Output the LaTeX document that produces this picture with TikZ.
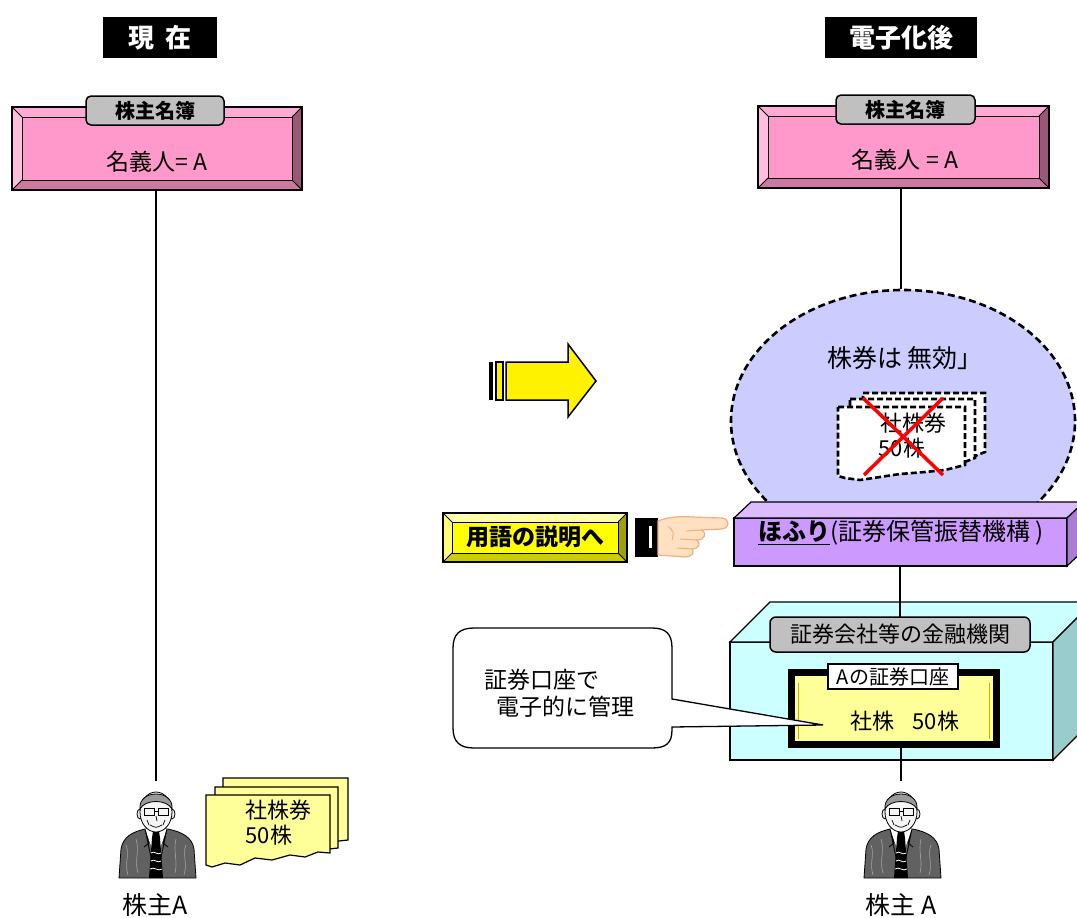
\documentclass[tikz,border=0pt]{standalone}
\usepackage{fontspec}
\setmainfont{Noto Sans CJK JP}
\usetikzlibrary{shapes.geometric,calc,positioning}

\newcommand{\jfs}[1]{\fontsize{#1}{#1}\selectfont}

\definecolor{pinkF}{RGB}{255,153,204}
\definecolor{pinkT}{RGB}{255,170,212}
\definecolor{pinkL}{RGB}{255,190,222}
\definecolor{pinkB}{RGB}{204,120,160}
\definecolor{pinkR}{RGB}{153,88,120}
\definecolor{tabgray}{RGB}{192,192,192}
\definecolor{fuusen}{RGB}{204,204,255}
\definecolor{hofuriF}{RGB}{204,153,255}
\definecolor{hofuriT}{RGB}{221,187,255}
\definecolor{hofuriS}{RGB}{170,125,210}
\definecolor{kinyuF}{RGB}{204,255,255}
\definecolor{kinyuS}{RGB}{153,204,204}
\definecolor{kouzaF}{RGB}{255,255,153}
\definecolor{kouzaG}{RGB}{200,175,0}
\definecolor{kabuken}{RGB}{255,255,153}
\definecolor{btnF}{RGB}{255,255,0}
\definecolor{btnT}{RGB}{255,255,170}
\definecolor{btnL}{RGB}{255,255,120}
\definecolor{btnB}{RGB}{204,204,0}
\definecolor{btnR}{RGB}{160,160,0}
\definecolor{handskin}{RGB}{255,224,192}
\definecolor{handline}{RGB}{240,175,130}

% 額縁（面取り）の枠
\newcommand{\bevel}[6]{%
  \fill[#3] (#1.north west) -- (#1.north east) -- ([shift={(-#2,#2)}]#1.north east) -- ([shift={(#2,#2)}]#1.north west) -- cycle;
  \fill[#4] (#1.north west) -- ([shift={(#2,#2)}]#1.north west) -- ([shift={(#2,-#2)}]#1.south west) -- (#1.south west) -- cycle;
  \fill[#5] (#1.south west) -- ([shift={(#2,-#2)}]#1.south west) -- ([shift={(-#2,-#2)}]#1.south east) -- (#1.south east) -- cycle;
  \fill[#6] (#1.south east) -- ([shift={(-#2,-#2)}]#1.south east) -- ([shift={(-#2,#2)}]#1.north east) -- (#1.north east) -- cycle;
  \draw[line width=1pt] (#1.north west) -- ([shift={(#2,#2)}]#1.north west)
    (#1.north east) -- ([shift={(-#2,#2)}]#1.north east)
    (#1.south west) -- ([shift={(#2,-#2)}]#1.south west)
    (#1.south east) -- ([shift={(-#2,-#2)}]#1.south east);
  \draw[line width=1pt] ([shift={(#2,#2)}]#1.north west) rectangle ([shift={(-#2,-#2)}]#1.south east);
  \draw[line width=1.5pt] (#1.north west) rectangle (#1.south east);
}

\tikzset{
  every picture/.style={line width=1.2pt},
  midashi/.style={fill=black, text=white, font=\jfs{26}\bfseries, inner sep=0pt, outer sep=0pt, minimum height=41},
  meibo/.style={fill=pinkF, inner sep=0pt, outer sep=0pt, minimum width=290, minimum height=83},
  tab/.style={draw=black, fill=tabgray, rounded corners=5pt, line width=1.5pt, inner sep=0pt, outer sep=0pt, minimum height=29},
  moji/.style={font=\jfs{23}, inner sep=0pt},
  kabuken/.style={fill=kabuken, draw=black, line width=1.2pt},
  mukouken/.style={fill=white, draw=black, dashed, dash pattern=on 6pt off 3pt, line width=2.6pt},
  batsu/.style={draw=red, line width=3.5pt},
  kaisha/.style={fill=#1, inner sep=0pt, outer sep=0pt, draw=black, line width=1.2pt},
  hashira/.style={line width=1.3pt},
  shinshi/.pic={
    % 上着
    \filldraw[fill=black!62, draw=black, line width=0.8pt] (-37,43) -- (-35,14) .. controls (-33,2) and (-24,-3) .. (-11,-6) -- (12,-6) .. controls (26,-3) and (36,2) .. (38,14) -- (40,43) -- cycle;
    \draw[black!35, line width=0.6pt] (-30,10) .. controls (-26,20) and (-32,28) .. (-28,40)
      (-20,4) .. controls (-16,16) and (-22,26) .. (-18,38)
      (30,10) .. controls (26,20) and (32,28) .. (28,40)
      (20,4) .. controls (17,16) and (22,26) .. (19,38);
    % シャツとネクタイ
    \fill[white] (-11,-6) -- (0,24) -- (11,-6) -- cycle;
    \draw[line width=0.8pt] (-11,-6) -- (-3,32) (11,-6) -- (3,32) (-11,-6) -- (-7,8) -- (-12,12) (11,-6) -- (7,8) -- (12,12);
    \fill[black] (-3,-4) -- (3,-4) -- (4,3) -- (-4,3) -- cycle;
    \fill[black] (-4,3) -- (4,3) -- (7,43) -- (-7,43) -- cycle;
    \draw[white, line width=0.8pt] (-5,18) .. controls (-2,15) and (2,21) .. (5,18)
      (-5,26) .. controls (-2,23) and (2,29) .. (5,26)
      (-6,34) .. controls (-2,31) and (2,37) .. (6,34);
    % 顔
    \fill[black!8] (-7,-12) rectangle (7,-4);
    \filldraw[fill=black!8, draw=black, line width=0.8pt] (-16,-21) ellipse [x radius=3, y radius=5];
    \filldraw[fill=black!8, draw=black, line width=0.8pt] (16,-21) ellipse [x radius=3, y radius=5];
    \filldraw[fill=black!4, draw=black, line width=0.8pt] (0,-23) ellipse [x radius=16, y radius=20];
    \filldraw[fill=black!40, draw=black, line width=0.8pt] (-16,-26) .. controls (-18,-46) and (18,-46) .. (16,-26) .. controls (11,-36) and (-11,-36) .. (-16,-26) -- cycle;
    \draw[line width=1pt] (-12,-27) rectangle (-2,-20) (2,-27) rectangle (12,-20) (-2,-24) -- (2,-24);
    \draw[line width=0.7pt] (0,-19) -- (1,-14) (-6,-10) .. controls (0,-7) .. (6,-10) (-9,-15) -- (-7,-10) (9,-15) -- (7,-10);
  }
}

\begin{document}
\begin{tikzpicture}[x=1pt,y=-1pt]
    \useasboundingbox (0,0) rectangle (1077,918);
    \clip (0,0) rectangle (1077,918);

    % 見出し
    \node[midashi, minimum width=114] (genzai) at (160,37.5) {現\hspace{0.45em}在};
    \node[midashi, minimum width=152] (denshika) at (901,37.5) {電子化後};

    % 現在：株主名簿
    \node[meibo] (meibo1) at (157,148.5) {};
    \bevel{meibo1}{10}{pinkT}{pinkL}{pinkB}{pinkR}
    \node[tab, minimum width=138, font=\jfs{20}\bfseries] (tab1) at (155,110.5) {株主名簿};
    \node[moji] (meigi1) at (157,162) {名義人= A};

    % 現在：株主Aと株券
    \node[inner sep=0pt, minimum width=78, minimum height=86] (kabu1) at (156,835) {};
    \draw[hashira] (meibo1.south -| kabu1.north) -- ([yshift=10pt]kabu1.north);
    \pic at (kabu1.center) {shinshi};
    \node[font=\jfs{25}, inner sep=0pt] (kabu1-t) at (155,905) {株主A};
    \filldraw[kabuken] (223,778) -- (348,778) -- (348,840) -- (330,842) -- (300,846) -- (260,848) -- (223,850) -- cycle;
    \filldraw[kabuken] (215,787) -- (338,787) -- (338,848) -- (320,850) -- (290,854) -- (255,856) -- (215,858) -- cycle;
    \filldraw[kabuken] (206,795) -- (330,795) -- (330,853) -- (318,852) -- (305,857) -- (290,855) -- (272,860) -- (255,858) -- (240,865) -- (225,863) -- (212,867) -- (206,865) -- cycle;
    \node[moji, font=\jfs{22}, anchor=west] (ken1) at (245,810) {社株券};
    \node[moji, font=\jfs{22}, anchor=west] (ken2) at (245,835) {50株};

    % 矢印
    \fill[black] (489,362) rectangle (493,400);
    \filldraw[fill=yellow, draw=black, line width=1.2pt] (496,362) rectangle (503,400);
    \filldraw[fill=yellow, draw=black, line width=1.5pt] (506,362) -- (568,362) -- (568,344) -- (596,381) -- (568,417) -- (568,400) -- (506,400) -- cycle;

    % 電子化後：株主名簿
    \node[meibo, minimum width=291, minimum height=82] (meibo2) at (903.5,147) {};
    \bevel{meibo2}{10}{pinkT}{pinkL}{pinkB}{pinkR}
    \node[tab, minimum width=139, font=\jfs{20}\bfseries] (tab2) at (905.5,109.5) {株主名簿};
    \node[moji] (meigi2) at (905,160) {名義人 = A};

    % 株券は無効
    \node[ellipse, fill=fuusen, draw=black, dashed, dash pattern=on 7pt off 4pt, line width=2.6pt, minimum width=344, minimum height=262, inner sep=0pt] (mukou) at (903,421) {};
    \node[inner sep=0pt, minimum width=78, minimum height=86] (kabu2) at (901,835) {};
    \draw[hashira] (meibo2.south -| kabu2) -- (mukou.north -| kabu2);
    \node[font=\jfs{25}, inner sep=0pt] (mukou-t) at (905,358) {株券は 無効」};
    \filldraw[mukouken] (863,393) -- (985,393) -- (985,452) -- (975,456) -- (950,458) -- (863,458) -- cycle;
    \filldraw[mukouken] (850,399) -- (975,399) -- (975,458) -- (962,463) -- (935,465) -- (850,465) -- cycle;
    \filldraw[mukouken] (838,407) -- (965,407) -- (965,465) -- (945,470) -- (925,472) -- (900,474) -- (880,477) -- (860,480) -- (845,478) -- (838,476) -- cycle;
    \node[moji, font=\jfs{22}, anchor=west] (ken3) at (880,423) {社株券};
    \node[moji, font=\jfs{22}, anchor=west] (ken4) at (878,448) {50株};
    \draw[batsu] (863,398) -- (943,475);
    \draw[batsu] (943,398) -- (864,475);

    % ほふり
    \node[kaisha=hofuriF, minimum width=333, minimum height=48] (hofuri) at (900.5,542) {};
    \filldraw[fill=hofuriT, draw=black, line width=1.2pt] (hofuri.north west) -- ++(17,-16) -- ([shift={(17,-16)}]hofuri.north east) -- (hofuri.north east) -- cycle;
    \filldraw[fill=hofuriS, draw=black, line width=1.2pt] (hofuri.north east) -- ++(17,-16) -- ([shift={(17,-16)}]hofuri.south east) -- (hofuri.south east) -- cycle;
    \node[font=\jfs{24}, inner sep=0pt] (hofuri-t) at (901,533) {\underline{\textbf{ほふり}}(証券保管振替機構 )};

    % 用語の説明へ
    \node[fill=btnF, inner sep=0pt, outer sep=0pt, minimum width=184, minimum height=49] (yougo) at (535,537.5) {};
    \bevel{yougo}{9}{btnT}{btnL}{btnB}{btnR}
    \node[font=\jfs{23}\bfseries, inner sep=0pt] (yougo-t) at (535,537) {用語の説明へ};

    % 指さし
    \fill[black] (635,518) rectangle (658,557);
    \fill[white] (649,526) rectangle (652,548);
    \filldraw[fill=handskin, draw=handline, line width=1.2pt] (658,521) .. controls (668,517) and (680,516) .. (692,517)
      -- (722,518) .. controls (730,519) and (730,528) .. (722,529) -- (702,530)
      .. controls (707,533) and (705,540) .. (697,540)
      .. controls (701,543) and (699,549) .. (692,549)
      .. controls (695,552) and (692,557) .. (685,557)
      -- (658,555) -- cycle;
    \draw[handline, line width=1pt] (702,530) -- (686,531) (697,540) -- (680,539) (692,549) -- (677,548) (668,526) .. controls (674,532) .. (672,540);

    % 証券会社等の金融機関
    \node[kaisha=kinyuF, minimum width=323, minimum height=118] (kinyu) at (891.5,701) {};
    \filldraw[fill=kinyuF, draw=black, line width=1.2pt] (kinyu.north west) -- ++(40,-40) -- ([shift={(40,-40)}]kinyu.north east) -- (kinyu.north east) -- cycle;
    \filldraw[fill=kinyuS, draw=black, line width=1.2pt] (kinyu.north east) -- ++(40,-40) -- ([shift={(40,-40)}]kinyu.south east) -- (kinyu.south east) -- cycle;
    \node[tab, minimum width=260, minimum height=35, rounded corners=6pt, font=\jfs{22}] (tab3) at (900,634.5) {証券会社等の金融機関};
    \draw[hashira] (hofuri.south -| tab3.north) -- (tab3.north);

    % Aの証券口座
    \node[fill=kouzaF, draw=black, line width=7pt, inner sep=0pt, outer sep=0pt, minimum width=205, minimum height=72] (kouza) at (894,708.5) {};
    \draw[kouzaG, line width=1.2pt] ([shift={(7,10)}]kouza.north west) -- ([shift={(7,-6)}]kouza.south west)
      ([shift={(-7,10)}]kouza.north east) -- ([shift={(-7,-6)}]kouza.south east);
    \node[fill=white, draw=black, line width=1.5pt, inner sep=0pt, minimum width=130, minimum height=25, font=\jfs{20}] (kouza-t) at (893,676.5) {Aの証券口座};
    \node[font=\jfs{22}, inner sep=0pt] (kouza-k) at (905,721) {社株\hspace{0.8em}50株};

    % 吹き出し
    \coordinate (saki) at (823,725);
    \filldraw[fill=white, draw=black, line width=1.3pt] (474,628) -- (652,628) .. controls (666,628) and (672,634) .. (672,648)
      -- (672,699) -- (saki) -- (672,727) -- (672,730) .. controls (672,743) and (666,748) .. (652,748)
      -- (474,748) .. controls (460,748) and (453,742) .. (453,728) -- (453,648) .. controls (453,634) and (460,628) .. (474,628) -- cycle;
    \node[font={\fontsize{23}{27}\selectfont}, align=left, anchor=west, inner sep=0pt] (kanri) at (484,693) {証券口座で\\\hspace{0.5em}電子的に管理};

    % 電子化後：株主A
    \draw[hashira] (kouza.south -| kabu2) -- ([yshift=10pt]kabu2.north);
    \pic at (kabu2.center) {shinshi};
    \node[font=\jfs{25}, inner sep=0pt] (kabu2-t) at (901,905) {株主 A};
\end{tikzpicture}
\end{document}
